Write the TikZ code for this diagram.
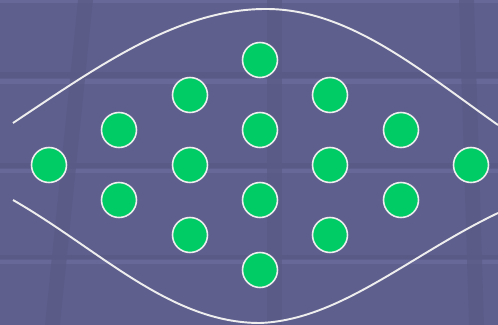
\documentclass[tikz,border=0pt]{standalone}
\usepackage{tikz}

\definecolor{bgviolet}{RGB}{95,95,142}
\definecolor{bandlight}{RGB}{104,104,152}
\definecolor{banddark}{RGB}{90,90,134}
\definecolor{dotgreen}{RGB}{0,204,102}
\definecolor{rimwhite}{RGB}{238,238,238}

\tikzset{
    dot/.style={circle, fill=dotgreen, draw=rimwhite, line width=0.9pt,
                minimum size=17.5mm*0.4, inner sep=0pt},
    lens/.style={draw=rimwhite, line width=1.1pt}
}

\begin{document}
\begin{tikzpicture}[x=0.02cm, y=-0.02cm]
    % Nền
    \fill[bgviolet] (0,0) rectangle (498,325);
    \useasboundingbox (0,0) rectangle (498,325);

    % Vệt mờ của nền
    \fill[banddark] (0,72) rectangle (498,78);
    \fill[bandlight] (0,79) rectangle (498,84);
    \fill[banddark] (0,163) rectangle (498,168);
    \fill[bandlight] (0,169) rectangle (498,173);
    \fill[banddark] (0,255) rectangle (498,259);
    \fill[bandlight] (0,260) rectangle (498,264);
    \fill[bandlight] (0,0) rectangle (498,3);
    \fill[banddark, opacity=0.7] (78,0) -- (93,0) -- (60,325) -- (45,325) -- cycle;
    \fill[banddark, opacity=0.7] (267,0) -- (282,0) -- (282,325) -- (267,325) -- cycle;
    \fill[banddark, opacity=0.7] (459,0) -- (474,0) -- (484,325) -- (469,325) -- cycle;

    % Hai đường cong
    \draw[lens] (13,123) .. controls (100,65) and (180,8) .. (268,9)
                         .. controls (350,10) and (420,70) .. (498,125);
    \draw[lens] (13,200) .. controls (100,250) and (170,323) .. (260,323)
                         .. controls (340,320) and (410,255) .. (498,213);

    % Các chấm xanh
    \node[dot] (c1) at (49,165) {};
    \node[dot] (c2a) at (119,130) {};
    \node[dot] (c2b) at (119,200) {};
    \node[dot] (c3a) at (190,95) {};
    \node[dot] (c3b) at (190,165) {};
    \node[dot] (c3c) at (190,235) {};
    \node[dot] (c4a) at (260,60) {};
    \node[dot] (c4b) at (260,130) {};
    \node[dot] (c4c) at (260,200) {};
    \node[dot] (c4d) at (260,270) {};
    \node[dot] (c5a) at (330,95) {};
    \node[dot] (c5b) at (330,165) {};
    \node[dot] (c5c) at (330,235) {};
    \node[dot] (c6a) at (401,130) {};
    \node[dot] (c6b) at (401,200) {};
    \node[dot] (c7) at (471,165) {};
\end{tikzpicture}
\end{document}
